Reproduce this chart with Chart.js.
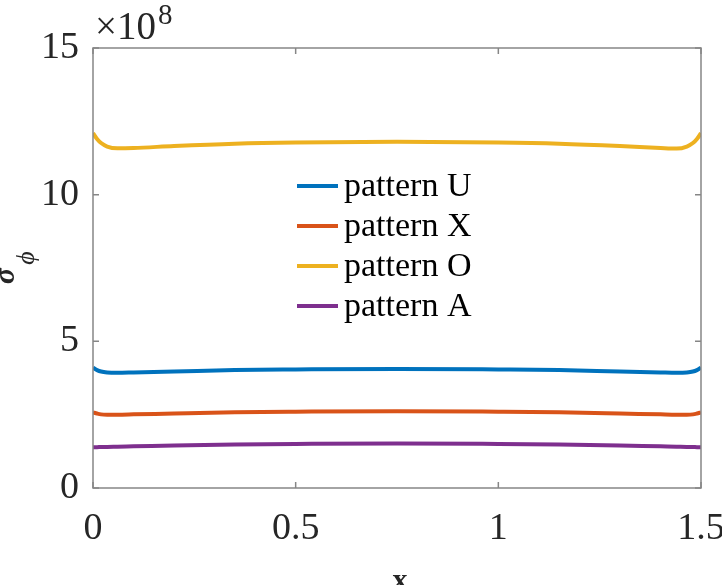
<!DOCTYPE html>
<html><head><meta charset="utf-8">
<script src="https://cdn.jsdelivr.net/npm/chart.js@4.4.1/dist/chart.umd.min.js"></script>
<style>html,body{margin:0;padding:0;background:#fff;overflow:hidden}</style>
</head><body>
<canvas id="c" width="722" height="585" style="display:block;width:722px;height:585px"></canvas>
<script>
// Values of sigma_phi in units of 1e8
const xValues  = [0, 0.01, 0.02, 0.035, 0.06, 0.1, 0.2, 0.35, 0.5, 0.75, 1.0, 1.15, 1.3, 1.4, 1.44, 1.465, 1.48, 1.49, 1.5];
const patternU = [4.10, 4.02, 3.97, 3.94, 3.93, 3.94, 3.97, 4.02, 4.04, 4.06, 4.04, 4.02, 3.97, 3.94, 3.93, 3.94, 3.97, 4.02, 4.10];
const patternX = [2.58, 2.54, 2.51, 2.50, 2.50, 2.51, 2.54, 2.58, 2.60, 2.62, 2.60, 2.58, 2.54, 2.51, 2.50, 2.50, 2.51, 2.54, 2.58];
const patternO = [12.10, 11.90, 11.76, 11.64, 11.58, 11.59, 11.66, 11.74, 11.78, 11.80, 11.78, 11.74, 11.66, 11.59, 11.57, 11.64, 11.76, 11.90, 12.10];
const patternA = [1.39, 1.39, 1.40, 1.40, 1.41, 1.42, 1.45, 1.48, 1.50, 1.52, 1.50, 1.48, 1.45, 1.42, 1.41, 1.40, 1.40, 1.39, 1.39];
const seriesNames = ['pattern U', 'pattern X', 'pattern O', 'pattern A'];
const seriesColors = ['#0072BD', '#D95319', '#EDB120', '#7E2F8E'];
const xTicks = [0, 0.5, 1, 1.5];
const xTickLabels = ['0', '0.5', '1', '1.5'];
const yTicks = [0, 5, 10, 15];
const yTickLabels = ['0', '5', '10', '15'];
const yExponent = '8';

const series = [patternU, patternX, patternO, patternA];
const SERIF = '"Liberation Serif", "Times New Roman", serif';
const TEXT = '#262626';

const decor = {
  id: 'decor',
  afterDatasetsDraw(chart) {
    const {ctx, chartArea: a, scales: {x, y}} = chart;
    ctx.save();
    // box
    ctx.strokeStyle = '#868686';
    ctx.lineWidth = 1.5;
    ctx.strokeRect(a.left, a.top, a.right - a.left, a.bottom - a.top);
    // inward ticks
    const tl = 6;
    ctx.beginPath();
    xTicks.forEach(v => {
      const px = x.getPixelForValue(v);
      ctx.moveTo(px, a.bottom); ctx.lineTo(px, a.bottom - tl);
      ctx.moveTo(px, a.top); ctx.lineTo(px, a.top + tl);
    });
    yTicks.forEach(v => {
      const py = y.getPixelForValue(v);
      ctx.moveTo(a.left, py); ctx.lineTo(a.left + tl, py);
      ctx.moveTo(a.right, py); ctx.lineTo(a.right - tl, py);
    });
    ctx.stroke();

    // legend
    ctx.font = '34px ' + SERIF;
    ctx.textBaseline = 'middle';
    ctx.textAlign = 'left';
    const lx = 297, ly0 = 186, dy = 40;
    chart.data.datasets.forEach((ds, i) => {
      const yy = ly0 + i * dy;
      ctx.strokeStyle = ds.borderColor;
      ctx.lineWidth = 4;
      ctx.beginPath(); ctx.moveTo(lx, yy); ctx.lineTo(lx + 41, yy); ctx.stroke();
      ctx.fillStyle = '#000';
      ctx.fillText(ds.label, lx + 47, yy + 1);
    });

    // exponent label
    ctx.fillStyle = TEXT;
    ctx.textBaseline = 'alphabetic';
    ctx.font = '39px ' + SERIF;
    ctx.fillText('\u00d710', 95, 39);
    const w = ctx.measureText('\u00d710').width;
    ctx.font = '29px ' + SERIF;
    ctx.fillText(yExponent, 95 + w + 2, 24);

    // x axis label
    ctx.fillStyle = TEXT;
    ctx.font = 'bold 30px ' + SERIF;
    ctx.textAlign = 'center';
    ctx.fillText('x', 400, 589);

    // y axis label (sigma_phi)
    ctx.save();
    ctx.translate(6, 276);
    ctx.rotate(-Math.PI / 2);
    ctx.textAlign = 'center';
    ctx.textBaseline = 'middle';
    ctx.font = 'bold italic 30px ' + SERIF;
    ctx.fillText('\u03c3', 0, 0);
    ctx.font = 'italic 26px ' + SERIF;
    ctx.fillText('\u03d5', 18, 21);
    ctx.restore();

    ctx.restore();
  }
};

new Chart(document.getElementById('c'), {
  type: 'line',
  data: {
    datasets: series.map((arr, i) => ({
      label: seriesNames[i],
      data: xValues.map((xv, j) => ({x: xv, y: arr[j]})),
      borderColor: seriesColors[i],
      backgroundColor: seriesColors[i],
      borderWidth: 4,
      pointRadius: 0,
      fill: false,
      cubicInterpolationMode: 'monotone'
    }))
  },
  options: {
    responsive: false,
    animation: false,
    devicePixelRatio: 1,
    layout: {padding: {left: 0, top: 48, right: 21, bottom: 0}},
    plugins: {legend: {display: false}, tooltip: {enabled: false}, title: {display: false}},
    scales: {
      x: {
        type: 'linear', min: 0, max: 1.5,
        afterBuildTicks: s => { s.ticks = xTicks.map(v => ({value: v})); },
        afterFit: s => { s.height = 97; s.paddingLeft = 0; s.paddingRight = 0; },
        grid: {display: false, drawTicks: false},
        border: {display: false},
        ticks: {
          padding: 18, color: TEXT, maxRotation: 0, autoSkip: false,
          font: {family: SERIF, size: 38},
          callback: (v) => xTickLabels[xTicks.indexOf(v)]
        }
      },
      y: {
        type: 'linear', min: 0, max: 15,
        afterBuildTicks: s => { s.ticks = yTicks.map(v => ({value: v})); },
        afterFit: s => { s.width = 93; s.paddingTop = 0; s.paddingBottom = 0; },
        grid: {display: false, drawTicks: false},
        border: {display: false},
        ticks: {
          padding: 14, color: TEXT, autoSkip: false,
          font: {family: SERIF, size: 38},
          callback: (v) => yTickLabels[yTicks.indexOf(v)]
        }
      }
    }
  },
  plugins: [decor]
});
</script>
</body></html>
